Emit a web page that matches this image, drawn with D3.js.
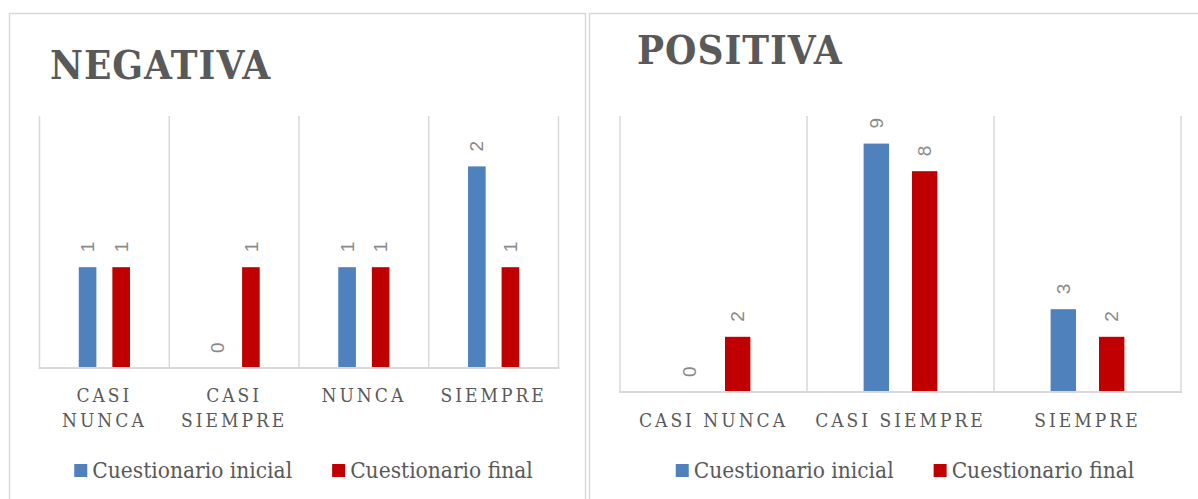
<!DOCTYPE html>
<html>
<head>
<meta charset="utf-8">
<script src="https://cdn.jsdelivr.net/npm/d3@7"></script>
<style>
  html, body { margin: 0; padding: 0; background: #fff; }
  svg { display: block; }
</style>
</head>
<body>
<script>
// data
const series = ["Cuestionario inicial", "Cuestionario final"];
const colors = ["#4f81bd", "#c00000"];

const negCategories = ["CASI NUNCA", "CASI SIEMPRE", "NUNCA", "SIEMPRE"];
const negInicial = [1, 0, 1, 2];
const negFinal = [1, 1, 1, 1];
const negMax = 2.5;

const posCategories = ["CASI NUNCA", "CASI SIEMPRE", "SIEMPRE"];
const posInicial = [0, 9, 3];
const posFinal = [2, 8, 2];
const posMax = 10;

const w = 1198, h = 499;
const serif = "'DejaVu Serif Condensed', 'DejaVu Serif', serif";
const grey = "#595959", gridc = "#d9d9d9";

const svg = d3.select("body").append("svg").attr("width", w).attr("height", h);

// panel frames
svg.append("rect").attr("x", 9.5).attr("y", 13.5).attr("width", 576).attr("height", 520)
  .attr("fill", "none").attr("stroke", gridc).attr("stroke-width", 1.5);
svg.append("rect").attr("x", 589.5).attr("y", 13.5).attr("width", 640).attr("height", 520)
  .attr("fill", "none").attr("stroke", gridc).attr("stroke-width", 1.5);

const drawChart = function(opt) {
  var g = svg.append("g");

  g.append("text")
    .attr("x", opt.titleX).attr("y", opt.titleY)
    .attr("font-family", serif).attr("font-weight", "bold")
    .attr("font-size", "40px").attr("letter-spacing", "1px")
    .attr("fill", grey).text(opt.title);

  var x0 = d3.scaleBand().domain(opt.categories).range([opt.left, opt.right]);
  var x1 = d3.scaleBand().domain(series).range([0, x0.bandwidth()])
    .paddingInner(0.475).paddingOuter(1.17);
  var y = d3.scaleLinear().domain([0, opt.max]).range([opt.bottom, opt.top]);

  // vertical gridlines at category borders
  var edges = opt.categories.map((d) => x0(d)).concat([opt.right]);
  g.append("g").selectAll("line")
    .data(edges)
    .enter().append("line")
    .attr("x1", (d) => d).attr("x2", (d) => d)
    .attr("y1", opt.top).attr("y2", opt.bottom)
    .attr("stroke", gridc).attr("stroke-width", 1.5);

  var rows = opt.categories.map((c, i) => {
    return { cat: c, vals: [opt.inicial[i], opt.final[i]] };
  });

  var groups = g.append("g").selectAll("g")
    .data(rows)
    .enter().append("g")
    .attr("transform", (d) => "translate(" + x0(d.cat) + ",0)");

  var cells = groups.selectAll("g")
    .data((d) => d.vals.map((v, j) => { return { s: series[j], v: v, j: j }; }))
    .enter().append("g");

  cells.append("rect")
    .attr("x", (d) => x1(d.s))
    .attr("width", x1.bandwidth())
    .attr("y", (d) => y(d.v))
    .attr("height", (d) => y(0) - y(d.v))
    .attr("fill", (d) => colors[d.j]);

  cells.append("text")
    .attr("transform", (d) => "translate(" + (x1(d.s) + x1.bandwidth()/2) + "," + (y(d.v) - 15) + ") rotate(-90)")
    .attr("dy", "0.35em")
    .attr("font-family", "'Liberation Sans', Arial, sans-serif")
    .attr("font-size", "19px")
    .attr("fill", "#8a8a8a")
    .text((d) => d.v);

  // category axis
  g.append("line")
    .attr("x1", opt.left - 1).attr("x2", opt.right + 1)
    .attr("y1", opt.bottom).attr("y2", opt.bottom)
    .attr("stroke", gridc).attr("stroke-width", 2);

  var labels = g.append("g").selectAll("text")
    .data(opt.categories)
    .enter().append("text")
    .attr("x", (d) => x0(d) + x0.bandwidth()/2)
    .attr("y", opt.labelY)
    .attr("text-anchor", "middle")
    .attr("font-family", serif).attr("font-size", "19px")
    .attr("letter-spacing", "3px")
    .attr("fill", grey);
  labels.each(function(d) {
    var parts = opt.wrap ? d.split(" ") : [d];
    var t = d3.select(this);
    parts.forEach((p, i) => {
      t.append("tspan")
        .attr("x", x0(d) + x0.bandwidth()/2)
        .attr("dy", i === 0 ? 0 : 25)
        .text(p);
    });
  });

  // legend
  var lg = g.append("g");
  var items = lg.selectAll("g")
    .data(series)
    .enter().append("g");
  items.append("rect")
    .attr("width", 13).attr("height", 13)
    .attr("y", opt.legendY - 14)
    .attr("fill", (d, i) => colors[i]);
  items.append("text")
    .attr("x", 18).attr("y", opt.legendY)
    .attr("font-family", serif).attr("font-size", "22.5px")
    .attr("fill", grey).text((d) => d);
  var pos = 0;
  items.each(function() {
    var tw = d3.select(this).select("text").node().getComputedTextLength();
    d3.select(this).attr("transform", "translate(" + pos + ",0)");
    pos += 18 + tw + 40;
  });
  pos -= 40;
  lg.attr("transform", "translate(" + ((opt.left + opt.right)/2 + 4.5 - pos/2) + ",0)");
};

drawChart({
  title: "NEGATIVA", titleX: 50, titleY: 79,
  categories: negCategories, inicial: negInicial, final: negFinal, max: negMax,
  left: 39.5, right: 558.5, top: 116, bottom: 368,
  labelY: 402, wrap: true, legendY: 478
});

drawChart({
  title: "POSITIVA", titleX: 637, titleY: 64,
  categories: posCategories, inicial: posInicial, final: posFinal, max: posMax,
  left: 620, right: 1181, top: 116, bottom: 392,
  labelY: 427, wrap: false, legendY: 478
});
</script>
</body>
</html>
